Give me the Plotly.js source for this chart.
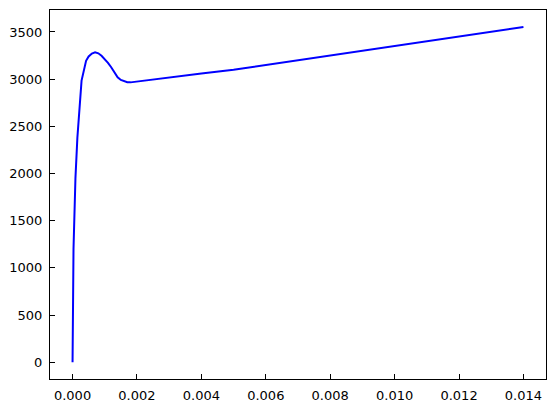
<!DOCTYPE html>
<html>
<head>
<meta charset="utf-8">
<script src="https://cdn.plot.ly/plotly-3.0.1.min.js"></script>
<style>
  html, body { margin: 0; padding: 0; background: #fff; }
  #chart { width: 555px; height: 408px; }
</style>
</head>
<body>
<div id="chart"></div>
<script>
"use strict"

// strain / stress
const strain = [0, 0.00003, 0.00009, 0.00015, 0.00028, 0.00042,
  0.0005, 0.0006, 0.0007, 0.0008, 0.0009, 0.001, 0.0011, 0.0012, 0.0013,
  0.0014, 0.0015, 0.0016, 0.0017, 0.0018, 0.002, 0.0025, 0.003, 0.004, 0.005,
  0.008, 0.010, 0.012, 0.014]
const stress = [0, 1200, 1950, 2380, 2985, 3195,
  3240, 3272, 3285, 3274, 3248, 3212, 3172, 3126, 3072,
  3020, 2992, 2977, 2968, 2966, 2975, 2995, 3018, 3060, 3100,
  3251, 3351, 3451, 3552]

const xTicks = [0, 0.002, 0.004, 0.006, 0.008, 0.010, 0.012, 0.014]
const yTicks = [0, 500, 1000, 1500, 2000, 2500, 3000, 3500]

const axisBase = {
  showgrid: false,
  zeroline: false,
  showline: true,
  mirror: true,
  linecolor: "black",
  linewidth: 1,
  ticks: "inside",
  ticklen: 5,
  tickwidth: 1,
  tickcolor: "black",
  ticklabelstandoff: 4,
  tickfont: {family: "DejaVu Sans", size: 13, color: "black"},
}

const trace = {
  x: strain,
  y: stress,
  mode: "lines",
  type: "scatter",
  line: {color: "#0000ff", width: 2},
}

const layout = {
  width: 555,
  height: 408,
  margin: {l: 50, r: 9, t: 10, b: 29, pad: 0},
  paper_bgcolor: "white",
  plot_bgcolor: "white",
  showlegend: false,
  xaxis: Object.assign({}, axisBase, {
    range: [-0.0007, 0.0147],
    tickvals: xTicks,
    ticktext: xTicks.map(v => v.toFixed(3)),
  }),
  yaxis: Object.assign({}, axisBase, {
    range: [-178, 3733],
    tickvals: yTicks,
    ticktext: yTicks.map(v => String(v)),
  }),
}

Plotly.newPlot("chart", [trace], layout, {displayModeBar: false, staticPlot: true})
</script>
</body>
</html>
